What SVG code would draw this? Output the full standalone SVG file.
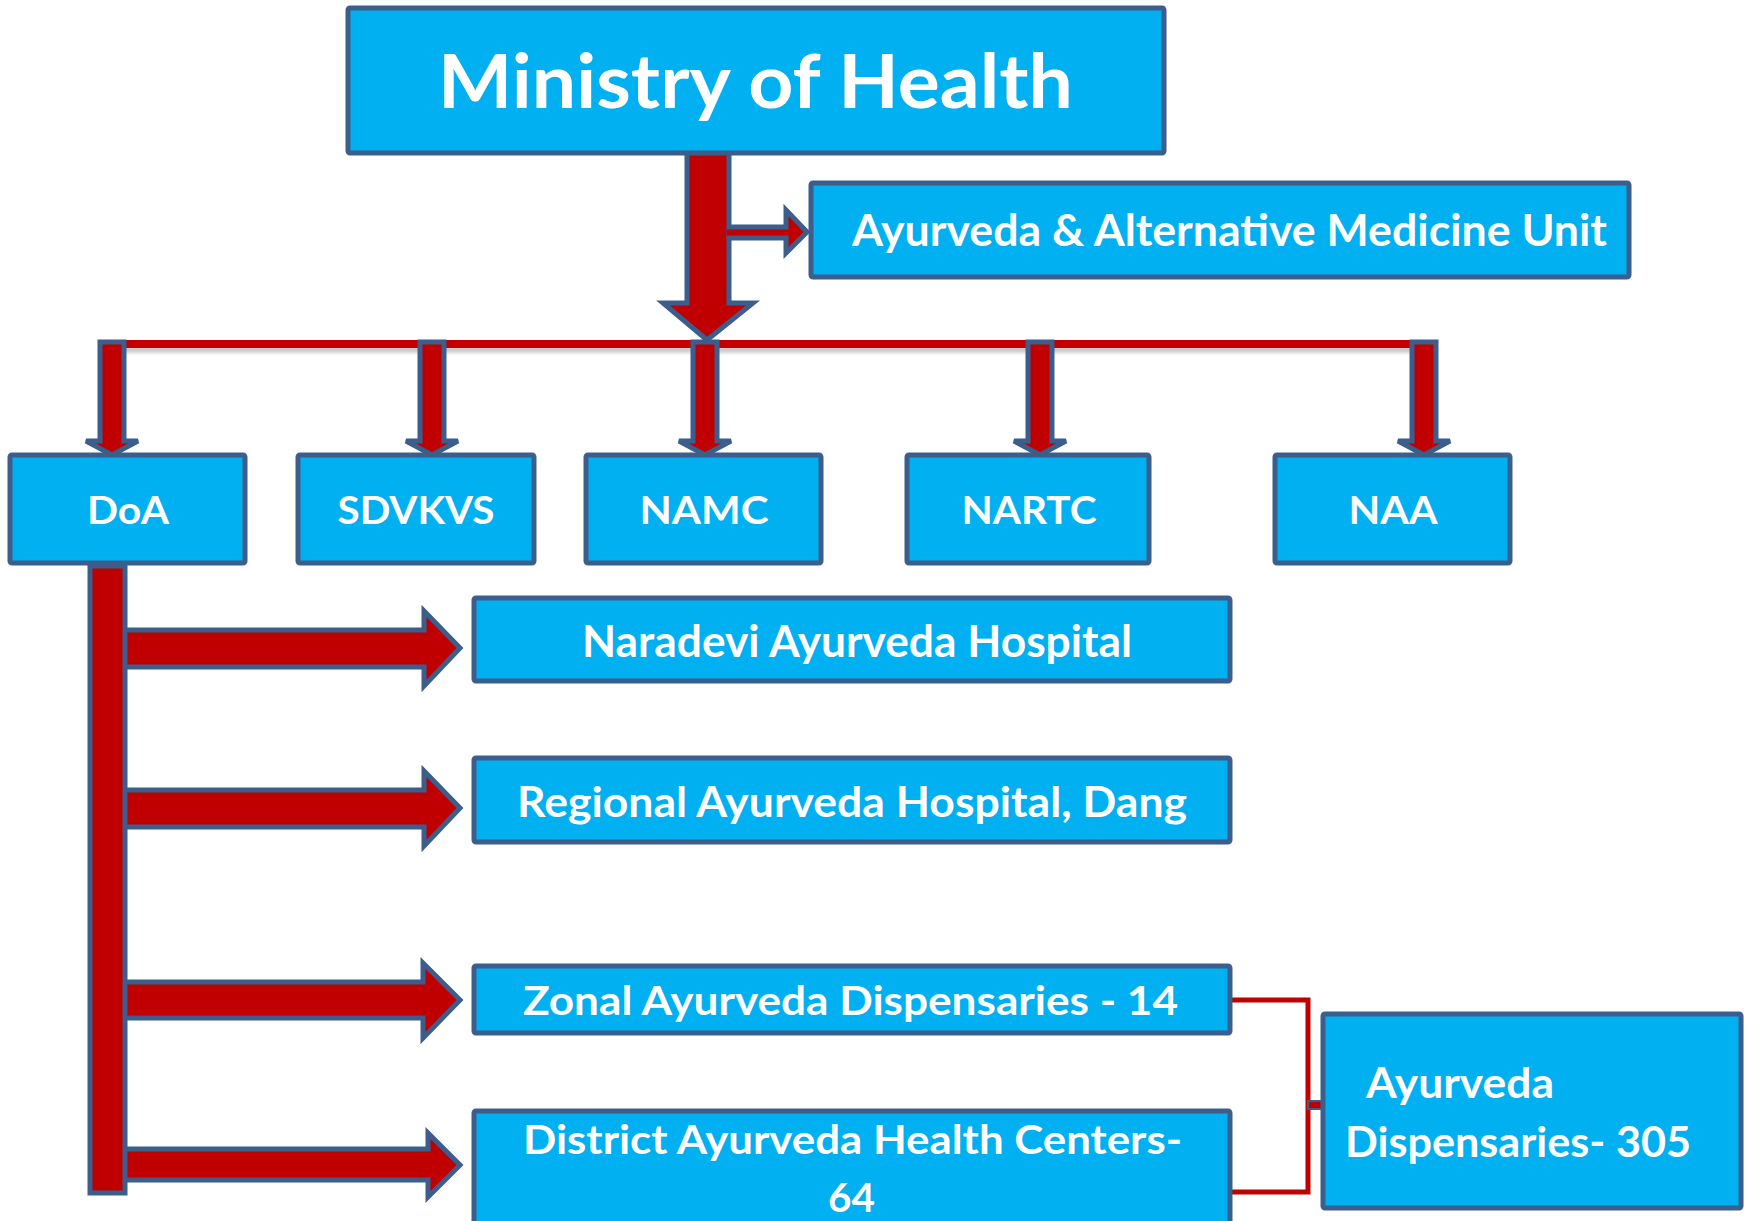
<svg xmlns="http://www.w3.org/2000/svg" width="1747" height="1221" viewBox="0 0 1747 1221">
<defs>
<style>
.box{fill:#00B0F0;stroke:#3B5E8C;stroke-width:5;}
.arr{fill:#C00000;stroke:#3B5E8C;stroke-width:5;stroke-linejoin:miter;}
.t{font-family:Lato,"Open Sans","Liberation Sans",sans-serif;font-weight:700;fill:#FFFFFF;}
.line{fill:none;stroke:#C00000;stroke-width:5;}
</style>
<filter id="sh" x="-5%" y="-100%" width="110%" height="400%">
<feGaussianBlur stdDeviation="2"/>
</filter>
</defs>
<rect width="1747" height="1221" fill="#FFFFFF"/>

<g id="connectors">
  <!-- Ministry big down arrow -->
  <polygon class="arr" points="687,152 729,152 729,303 753,303 707,340 663,303 687,303"/>
  <!-- small right arrow to unit -->
  <path class="arr" d="M727,227 H786 V210 L807,232 L786,253 V238 H727"/>
  <!-- horizontal bar with shadow -->
  <rect x="110" y="347" width="1314" height="5" fill="#888" opacity="0.6" filter="url(#sh)"/>
  <rect x="108" y="340" width="1316" height="8" fill="#C00000"/>
  <!-- down arrows to row 2 -->
  <polygon class="arr" points="100,342 124,342 124,441 138,441 112,455 86,441 100,441"/>
  <polygon class="arr" points="420,342 444,342 444,441 458,441 432,455 406,441 420,441"/>
  <polygon class="arr" points="693,342 717,342 717,441 731,441 705,455 679,441 693,441"/>
  <polygon class="arr" points="1028,342 1052,342 1052,441 1066,441 1040,455 1014,441 1028,441"/>
  <polygon class="arr" points="1412,342 1436,342 1436,441 1450,441 1424,455 1398,441 1412,441"/>
  <!-- horizontal arrows from DoA column -->
  <path class="arr" d="M122,630 H424 V611 L460,648 L424,686 V667 H122"/>
  <path class="arr" d="M122,790 H424 V771 L460,808 L424,846 V827 H122"/>
  <path class="arr" d="M122,982 H423 V963 L460,1000 L423,1038 V1018 H122"/>
  <path class="arr" d="M122,1149 H428 V1133 L460,1165 L428,1197 V1180 H122"/>
  <!-- DoA column -->
  <rect class="arr" x="90" y="566" width="35" height="627"/>
  <!-- bracket to Ayurveda Dispensaries -->
  <path class="line" d="M1230,1000 H1308 V1192 H1230"/>
  <rect x="1308" y="1101" width="15" height="8" fill="#C00000" stroke="#3B5E8C" stroke-width="2"/>
</g>

<g id="ministry">
  <rect class="box" x="348" y="8" width="816" height="145" rx="2"/>
  <text class="t" x="438" y="108" font-size="74" textLength="635" lengthAdjust="spacingAndGlyphs">Ministry of Health</text>
</g>
<g id="unit">
  <rect class="box" x="811" y="183" width="818" height="94" rx="2"/>
  <text class="t" x="852" y="246" font-size="43" textLength="755" lengthAdjust="spacingAndGlyphs">Ayurveda &amp; Alternative Medicine Unit</text>
</g>
<g id="doa">
  <rect class="box" x="10" y="455" width="235" height="108" rx="2"/>
  <text class="t" x="128" y="524" font-size="38" text-anchor="middle" textLength="82" lengthAdjust="spacingAndGlyphs">DoA</text>
</g>
<g id="sdvkvs">
  <rect class="box" x="298" y="455" width="236" height="108" rx="2"/>
  <text class="t" x="416" y="524" font-size="38" text-anchor="middle" textLength="157" lengthAdjust="spacingAndGlyphs">SDVKVS</text>
</g>
<g id="namc">
  <rect class="box" x="586" y="455" width="235" height="108" rx="2"/>
  <text class="t" x="704" y="524" font-size="38" text-anchor="middle" textLength="129" lengthAdjust="spacingAndGlyphs">NAMC</text>
</g>
<g id="nartc">
  <rect class="box" x="907" y="455" width="242" height="108" rx="2"/>
  <text class="t" x="1029" y="524" font-size="38" text-anchor="middle" textLength="135" lengthAdjust="spacingAndGlyphs">NARTC</text>
</g>
<g id="naa">
  <rect class="box" x="1275" y="455" width="235" height="108" rx="2"/>
  <text class="t" x="1393" y="524" font-size="38" text-anchor="middle" textLength="89" lengthAdjust="spacingAndGlyphs">NAA</text>
</g>
<g id="naradevi">
  <rect class="box" x="474" y="598" width="756" height="83" rx="2"/>
  <text class="t" x="582" y="657" font-size="43" textLength="550" lengthAdjust="spacingAndGlyphs">Naradevi Ayurveda Hospital</text>
</g>
<g id="regional">
  <rect class="box" x="474" y="758" width="756" height="84" rx="2"/>
  <text class="t" x="517" y="817" font-size="42" textLength="670" lengthAdjust="spacingAndGlyphs">Regional Ayurveda Hospital, Dang</text>
</g>
<g id="zonal">
  <rect class="box" x="474" y="966" width="756" height="67" rx="2"/>
  <text class="t" x="523" y="1015" font-size="41" textLength="655" lengthAdjust="spacingAndGlyphs">Zonal Ayurveda Dispensaries - 14</text>
</g>
<g id="district">
  <rect class="box" x="474" y="1111" width="756" height="130" rx="2"/>
  <text class="t" x="523" y="1154" font-size="41" textLength="659" lengthAdjust="spacingAndGlyphs">District Ayurveda Health Centers-</text>
  <text class="t" x="828" y="1212" font-size="41" textLength="47" lengthAdjust="spacingAndGlyphs">64</text>
</g>
<g id="dispensaries">
  <rect class="box" x="1323" y="1014" width="418" height="194" rx="2"/>
  <text class="t" x="1366" y="1098" font-size="42" textLength="188" lengthAdjust="spacingAndGlyphs">Ayurveda</text>
  <text class="t" x="1345" y="1157" font-size="42" textLength="346" lengthAdjust="spacingAndGlyphs">Dispensaries- 305</text>
</g>
</svg>
